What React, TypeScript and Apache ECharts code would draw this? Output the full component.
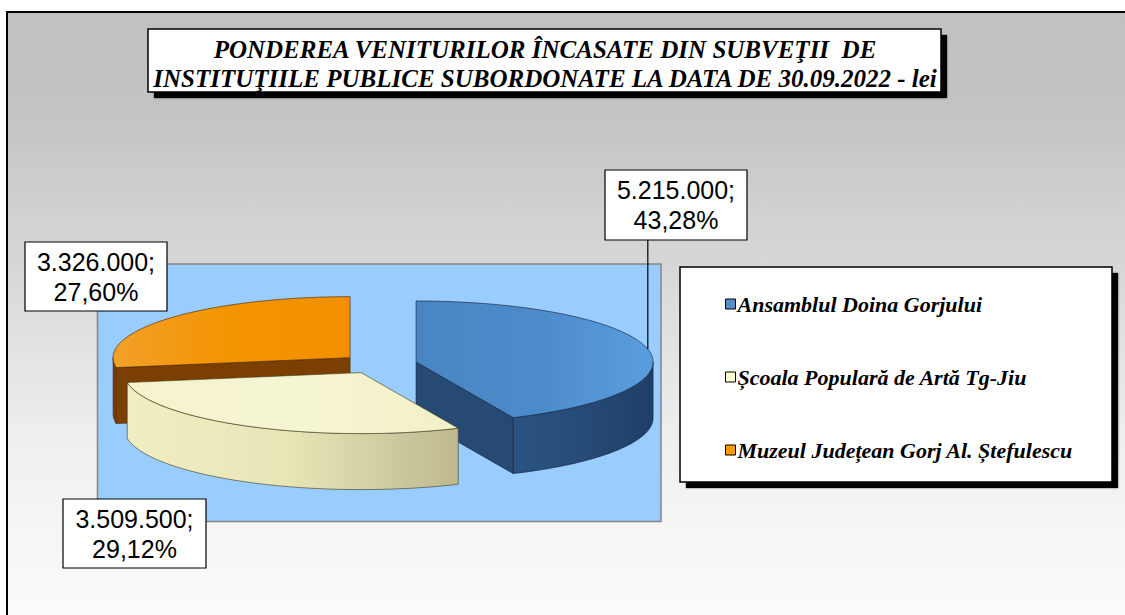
import React, { useEffect, useRef } from "react";
import * as echarts from "echarts";

// ---- data ----
const titleLines = [
  "PONDEREA VENITURILOR ÎNCASATE DIN SUBVEŢII  DE",
  "INSTITUŢIILE PUBLICE SUBORDONATE LA DATA DE 30.09.2022 - lei",
];
const categories = [
  "Ansamblul Doina Gorjului",
  "Școala Populară de Artă Tg-Jiu",
  "Muzeul Județean Gorj Al. Ștefulescu",
];
const values = [5215000, 3509500, 3326000];

// ---- styles / layout ----
const legendColors = ["#4F8FD0", "#FFFFCC", "#FF9900"];
const shades = [
  {
    top: ["#4885C3", "#4C8BCA", "#5A9DDD"],
    side: ["#2A5382", "#264B77", "#1F3F66"],
    radial: "#264A74",
    edge: "rgba(20,35,60,0.8)",
  },
  {
    top: ["#F4F3CC", "#F6F5D2", "#F1F0C6"],
    side: ["#F0EFC3", "#E7E5B6", "#BDB88F"],
    radial: "#C9C59C",
    edge: "rgba(70,65,35,0.8)",
  },
  {
    top: ["#F3A02A", "#F39400", "#F29000"],
    side: ["#7A4006", "#7A4006", "#7A4006"],
    radial: "#7C3F02",
    edge: "rgba(80,40,0,0.8)",
  },
];
const PIE = { cx: 379, cy: 364, rx: 237, ry: 61, depth: 56, explode: 0.16 };
const labelBoxes = [
  { x: 605, y: 170, w: 142, h: 70, leader: true },
  { x: 63, y: 499, w: 143, h: 69, leader: false },
  { x: 25, y: 242, w: 142, h: 69, leader: false },
];

const TAU = Math.PI * 2;
const total = values.reduce((a, b) => a + b, 0);
const starts = values.map(
  (_, i) => (values.slice(0, i).reduce((a, b) => a + b, 0) / total) * TAU
);

const fmtValue = (v: number) =>
  String(v).replace(/\B(?=(\d{3})+(?!\d))/g, ".") + ";";
const fmtPct = (v: number) =>
  ((v / total) * 100).toFixed(2).replace(".", ",") + "%";

function grad(stops: string[], vertical = false) {
  const n = stops.length - 1;
  return new echarts.graphic.LinearGradient(
    0,
    0,
    vertical ? 0 : 1,
    vertical ? 1 : 0,
    stops.map((c, k) => ({ offset: k / n, color: c }))
  );
}

function sliceRenderer(i: number) {
  return (_params: any, _api: any) => {
    const a0 = starts[i];
    const a1 = a0 + (values[i] / total) * TAU;
    const mid = (a0 + a1) / 2;
    const cx = PIE.cx + PIE.explode * PIE.rx * Math.sin(mid);
    const cy = PIE.cy - PIE.explode * PIE.ry * Math.cos(mid);
    const P = (a: number, d = 0) => [
      cx + PIE.rx * Math.sin(a),
      cy - PIE.ry * Math.cos(a) + d,
    ];
    const arc = (s: number, e: number, d: number) => {
      const n = Math.max(2, Math.ceil((e - s) / (Math.PI / 120)));
      const pts: number[][] = [];
      for (let k = 0; k <= n; k++) pts.push(P(s + ((e - s) * k) / n, d));
      return pts;
    };
    const sh = shades[i];
    const base = Math.round((1 - Math.cos(mid)) * 10);
    const children: any[] = [];
    const C = [cx, cy];

    // outer curved side (front half only)
    const s = Math.max(a0, Math.PI / 2);
    const e = Math.min(a1, 1.5 * Math.PI);
    if (e > s) {
      const pts = arc(s, e, 0).concat(arc(s, e, PIE.depth).reverse());
      children.push({
        type: "polygon",
        z2: base,
        shape: { points: pts },
        style: { fill: grad(sh.side), stroke: sh.edge, lineWidth: 0.8 },
      });
    }
    // radial faces
    const radial = (a: number, normal: number) => {
      if (Math.cos(normal) < -0.05) {
        const p = P(a);
        children.push({
          type: "polygon",
          z2: base + 1,
          shape: {
            points: [C, p, [p[0], p[1] + PIE.depth], [cx, cy + PIE.depth]],
          },
          style: { fill: sh.radial, stroke: sh.edge, lineWidth: 0.8 },
        });
      }
    };
    radial(a0, a0 - Math.PI / 2);
    radial(a1, a1 + Math.PI / 2);
    // top face
    children.push({
      type: "polygon",
      z2: 100 + base,
      shape: { points: [C].concat(arc(a0, a1, 0)) },
      style: { fill: grad(sh.top), stroke: sh.edge, lineWidth: 0.8 },
    });

    // data label
    const lb = labelBoxes[i];
    if (lb.leader) {
      const rim = P(mid);
      children.push({
        type: "line",
        z2: 190,
        shape: { x1: rim[0], y1: lb.y + lb.h, x2: rim[0], y2: rim[1] },
        style: { stroke: "#000", lineWidth: 1.2 },
      });
    }
    children.push({
      type: "rect",
      z2: 200,
      shape: { x: lb.x, y: lb.y, width: lb.w, height: lb.h },
      style: { fill: "#fff", stroke: "#000", lineWidth: 1.2 },
    });
    children.push({
      type: "text",
      z2: 201,
      style: {
        text: fmtValue(values[i]) + "\n" + fmtPct(values[i]),
        x: lb.x + lb.w / 2,
        y: lb.y + lb.h / 2,
        align: "center",
        verticalAlign: "middle",
        textAlign: "center",
        textVerticalAlign: "middle",
        fontFamily: "Liberation Sans",
        fontSize: 25,
        lineHeight: 30,
        fill: "#000",
      },
    });
    return { type: "group", children };
  };
}

const option: any = {
  animation: false,
  graphic: [
    {
      type: "rect",
      z: -10,
      shape: { x: 7, y: 12, width: 1300, height: 700 },
      style: {
        fill: new echarts.graphic.LinearGradient(0, 0, 0, 1, [
          { offset: 0, color: "#C0C0C0" },
          { offset: 0.12, color: "#C2C2C2" },
          { offset: 0.35, color: "#D6D6D6" },
          { offset: 0.6, color: "#EEEEEE" },
          { offset: 0.85, color: "#FBFBFB" },
          { offset: 1, color: "#FFFFFF" },
        ]),
        stroke: "#000",
        lineWidth: 2,
      },
    },
    {
      type: "rect",
      z: -9,
      shape: { x: 97.5, y: 264, width: 563.5, height: 257.5 },
      style: { fill: "#99CCFF", stroke: "#858585", lineWidth: 1.5 },
    },
    {
      type: "rect",
      z: -9,
      shape: { x: 154, y: 35, width: 793, height: 63 },
      style: { fill: "#000", shadowBlur: 2, shadowColor: "rgba(0,0,0,0.6)" },
    },
    {
      type: "rect",
      z: -8,
      shape: { x: 148, y: 29, width: 793, height: 63 },
      style: { fill: "#fff", stroke: "#000", lineWidth: 1.5 },
    },
    ...titleLines.map((t, k) => ({
      type: "text",
      z: -7,
      style: {
        text: t,
        x: 545,
        y: 49 + k * 29,
        align: "center",
        verticalAlign: "middle",
        textAlign: "center",
        textVerticalAlign: "middle",
        font: "italic bold 25px 'Liberation Serif'",
        fill: "#000",
      },
    })),
    {
      type: "rect",
      z: -9,
      shape: { x: 686, y: 273, width: 432, height: 215 },
      style: { fill: "#000", shadowBlur: 2, shadowColor: "rgba(0,0,0,0.6)" },
    },
    {
      type: "rect",
      z: -8,
      shape: { x: 680, y: 267, width: 432, height: 215 },
      style: { fill: "#fff", stroke: "#000", lineWidth: 1.5 },
    },
  ],
  legend: {
    orient: "vertical",
    left: 725,
    top: 293,
    padding: 0,
    itemWidth: 10,
    itemHeight: 10,
    itemGap: 51,
    icon: "rect",
    selectedMode: false,
    itemStyle: { borderColor: "#000", borderWidth: 1 },
    textStyle: {
      fontFamily: "Liberation Serif",
      fontStyle: "italic",
      fontWeight: "bold",
      fontSize: 22,
      color: "#000",
      padding: [0, 0, 0, -3],
    },
    data: categories.map((c, i) => ({
      name: c,
      itemStyle: { color: legendColors[i] },
    })),
  },
  series: categories.map((c, i) => ({
    type: "custom",
    name: c,
    coordinateSystem: "none",
    silent: true,
    itemStyle: { color: legendColors[i] },
    data: [[values[i]]],
    renderItem: sliceRenderer(i),
  })),
};

export default function App() {
  const ref = useRef<HTMLDivElement>(null);
  useEffect(() => {
    document.body.style.margin = "0";
    const chart = echarts.init(ref.current!, undefined, { renderer: "svg" });
    chart.setOption(option);
    return () => chart.dispose();
  }, []);
  return (
    <div
      ref={ref}
      style={{ position: "absolute", left: 0, top: 0, width: 1125, height: 615 }}
    />
  );
}
